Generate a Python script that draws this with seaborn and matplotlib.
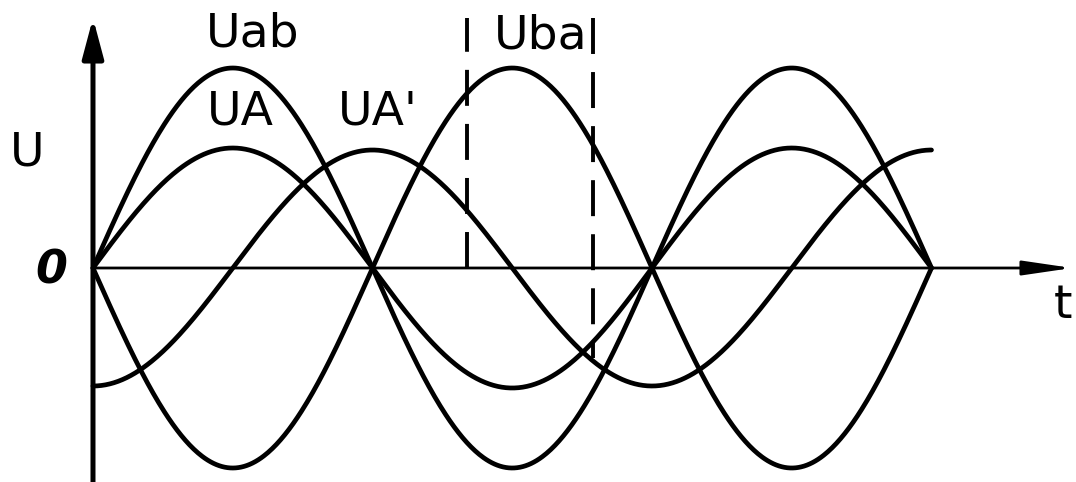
import numpy as np
import pandas as pd
import seaborn as sns
import matplotlib.pyplot as plt

# ---- data (x in half-periods, y in arbitrary units) ----
series_names = ["Uab", "Uba", "UA", "UA'"]
amplitudes = [2.00, -2.00, 1.20, 1.18]          # peak value of each wave
phase_offsets = [0.0, 0.0, 0.0, 0.5]            # shift, in half-periods
t_start = [0.0, 0.0, 0.0, 0.0]
t_end = [3.0, 3.0, 3.0, 3.0]

dashed_x = [1.338, 1.789]                        # the two dashed markers
dashed_from = [0.0, 2.50]
dashed_to = [2.50, -0.90]

label_texts = ["Uab", "UA", "UA'", "Uba"]
label_x = [0.572, 0.526, 1.02, 1.603]
label_y = [2.34, 1.56, 1.56, 2.32]

# ---- build long table ----
rows = []
for name, a, ph, t0, t1 in zip(series_names, amplitudes, phase_offsets, t_start, t_end):
    t = np.linspace(t0, t1, 600)
    v = a * np.sin(np.pi * (t - ph))
    rows.append(pd.DataFrame({"t": t, "U": v, "series": name}))
df = pd.concat(rows, ignore_index=True)

sns.set_theme(style="white")
plt.rcParams["font.family"] = ["DejaVu Sans"]

fig = plt.figure(figsize=(10.76, 4.82), dpi=100)
ax = fig.add_axes([0, 0, 1, 1])

sns.lineplot(data=df, x="t", y="U", hue="series", units="series", estimator=None,
             palette={n: "black" for n in series_names}, linewidth=3.4,
             legend=False, sort=False, ax=ax)

# axes drawn as arrows
ax.annotate("", xy=(0, 2.50), xytext=(0, -2.3),
            arrowprops=dict(arrowstyle="-|>,head_length=1.2,head_width=0.32",
                            mutation_scale=20, lw=3.6, color="black",
                            shrinkA=0, shrinkB=0))
ax.annotate("", xy=(3.503, 0), xytext=(0, 0),
            arrowprops=dict(arrowstyle="-|>,head_length=1.5,head_width=0.22",
                            mutation_scale=20, lw=2.0, color="black",
                            shrinkA=0, shrinkB=0))

for x, y0, y1 in zip(dashed_x, dashed_from, dashed_to):
    ax.plot([x, x], [y0, y1], color="black", lw=2.8, linestyle=(0, (9.25, 4.65)))

for txt, x, y in zip(label_texts, label_x, label_y):
    ax.text(x, y, txt, fontsize=34, ha="center", va="center", color="black")

ax.text(-0.236, 1.15, "U", fontsize=34, ha="center", va="center", color="black")
ax.text(-0.150, -0.03, "0", fontsize=33, ha="center", va="center", color="black",
        style="italic", fontweight="semibold")
ax.text(3.505, -0.38, "t", fontsize=34, ha="right", va="center", color="black")

ax.set_xlim(-0.3327, 3.517)
ax.set_ylim(-2.14, 2.68)
ax.axis("off")
fig.savefig("out.png", dpi=100, facecolor="white")
